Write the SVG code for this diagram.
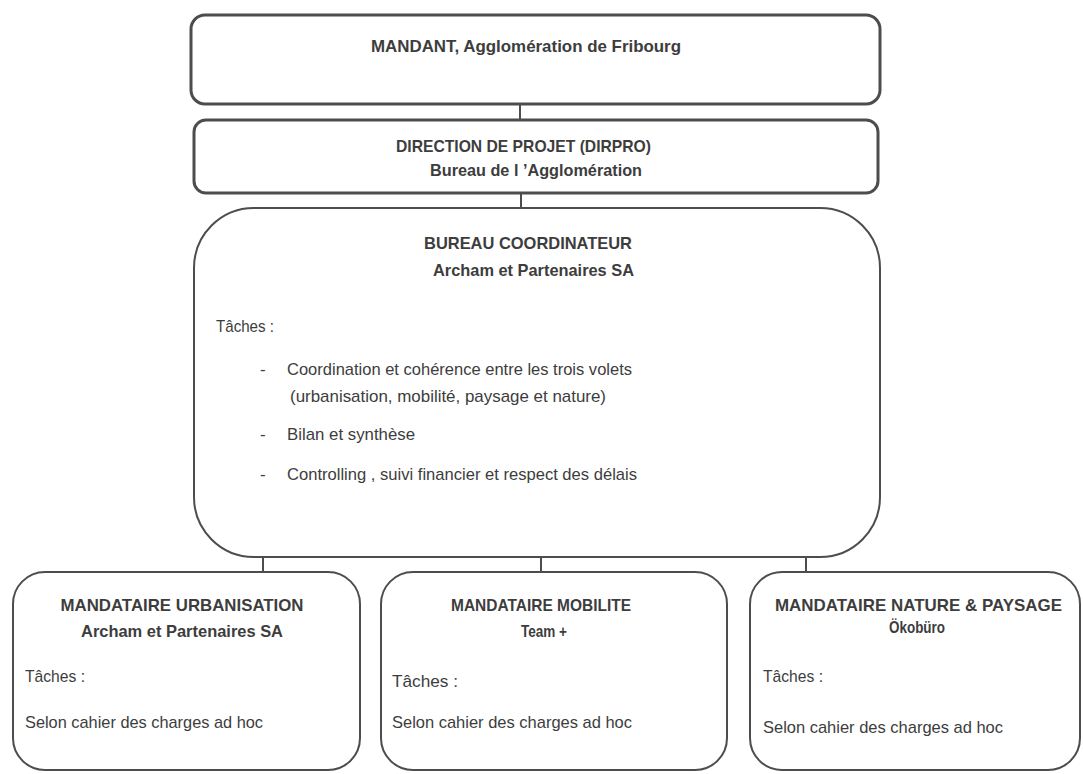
<svg xmlns="http://www.w3.org/2000/svg" width="1083" height="774" viewBox="0 0 1083 774">
  <style>
    .box { fill: #ffffff; stroke: #4d4d4d; stroke-width: 2; }
    .thick { stroke-width: 3; }
    .conn { stroke: #4d4d4d; stroke-width: 2; fill: none; }
    text { font-family: "Liberation Sans", Arial, sans-serif; fill: #3d3d3d; }
    .b { font-weight: bold; font-size: 17px; }
    .r { font-size: 17px; }
    .m { text-anchor: middle; }
  </style>
  <rect width="1083" height="774" fill="#ffffff"/>

  <g id="connectors">
    <line class="conn" x1="520" y1="104" x2="520" y2="120"/>
    <line class="conn" x1="521" y1="193" x2="521" y2="208"/>
    <line class="conn" x1="263" y1="557" x2="806" y2="557"/>
    <line class="conn" x1="263" y1="557" x2="263" y2="572"/>
    <line class="conn" x1="541" y1="557" x2="541" y2="572"/>
    <line class="conn" x1="806" y1="557" x2="806" y2="572"/>
  </g>

  <g id="mandant">
    <rect class="box thick" x="191" y="15" width="689" height="89" rx="14"/>
    <text class="b" x="371" y="52" textLength="310" lengthAdjust="spacingAndGlyphs">MANDANT, Agglomération de Fribourg</text>
  </g>

  <g id="dirpro">
    <rect class="box thick" x="194" y="120" width="684" height="73" rx="12"/>
    <text class="b" x="396" y="152" textLength="255" lengthAdjust="spacingAndGlyphs">DIRECTION DE PROJET (DIRPRO)</text>
    <text class="b" x="430" y="176" textLength="212" lengthAdjust="spacingAndGlyphs">Bureau de l ’Agglomération</text>
  </g>

  <g id="bureau">
    <rect class="box" x="194" y="208" width="686" height="349" rx="60"/>
    <text class="b" x="424" y="249" textLength="208" lengthAdjust="spacingAndGlyphs">BUREAU COORDINATEUR</text>
    <text class="b" x="433" y="276" textLength="201" lengthAdjust="spacingAndGlyphs">Archam et Partenaires SA</text>
    <text class="r" x="216" y="332" textLength="58" lengthAdjust="spacingAndGlyphs">Tâches :</text>
    <text class="r" x="260" y="375">-</text>
    <text class="r" x="287" y="375" textLength="345" lengthAdjust="spacingAndGlyphs">Coordination et cohérence entre les trois volets</text>
    <text class="r" x="290" y="402" textLength="316" lengthAdjust="spacingAndGlyphs">(urbanisation, mobilité, paysage et nature)</text>
    <text class="r" x="260" y="440">-</text>
    <text class="r" x="287" y="440" textLength="128" lengthAdjust="spacingAndGlyphs">Bilan et synthèse</text>
    <text class="r" x="260" y="480">-</text>
    <text class="r" x="287" y="480" textLength="350" lengthAdjust="spacingAndGlyphs">Controlling , suivi financier et respect des délais</text>
  </g>

  <g id="urbanisation">
    <rect class="box" x="13" y="572" width="347" height="198" rx="32"/>
    <text class="b m" x="182" y="611" textLength="243" lengthAdjust="spacingAndGlyphs">MANDATAIRE URBANISATION</text>
    <text class="b m" x="182" y="637" textLength="202" lengthAdjust="spacingAndGlyphs">Archam et Partenaires SA</text>
    <text class="r" x="25" y="682" textLength="60" lengthAdjust="spacingAndGlyphs">Tâches :</text>
    <text class="r" x="25" y="728" textLength="238" lengthAdjust="spacingAndGlyphs">Selon cahier des charges ad hoc</text>
  </g>

  <g id="mobilite">
    <rect class="box" x="381" y="572" width="346" height="198" rx="32"/>
    <text class="b m" x="541" y="611" textLength="180" lengthAdjust="spacingAndGlyphs">MANDATAIRE MOBILITE</text>
    <text class="b m" x="544" y="637" textLength="46" lengthAdjust="spacingAndGlyphs">Team +</text>
    <text class="r" x="392" y="687" textLength="66" lengthAdjust="spacingAndGlyphs">Tâches :</text>
    <text class="r" x="392" y="728" textLength="240" lengthAdjust="spacingAndGlyphs">Selon cahier des charges ad hoc</text>
  </g>

  <g id="nature">
    <rect class="box" x="750" y="572" width="330" height="198" rx="32"/>
    <text class="b" x="775" y="611" textLength="287" lengthAdjust="spacingAndGlyphs">MANDATAIRE  NATURE &amp; PAYSAGE</text>
    <text class="b m" x="917" y="633" textLength="56" lengthAdjust="spacingAndGlyphs">Ökobüro</text>
    <text class="r" x="763" y="682" textLength="60" lengthAdjust="spacingAndGlyphs">Tâches :</text>
    <text class="r" x="763" y="733" textLength="240" lengthAdjust="spacingAndGlyphs">Selon cahier des charges ad hoc</text>
  </g>
</svg>
